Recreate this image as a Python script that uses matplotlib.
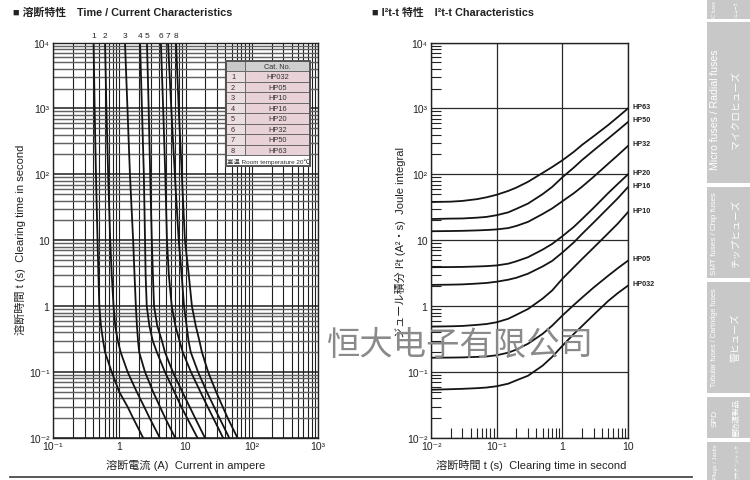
import matplotlib
matplotlib.use('Agg')
import matplotlib.pyplot as plt
from matplotlib import font_manager
from matplotlib.transforms import Affine2D, blended_transform_factory
from matplotlib.patches import Rectangle
from matplotlib.lines import Line2D
from matplotlib.ticker import LogLocator, FixedLocator, FixedFormatter, NullFormatter

# ---------------- data ----------------
fuse_numbers = ['1', '2', '3', '4', '5', '6', '7', '8']
fuse_names = ['HP032', 'HP05', 'HP10', 'HP16', 'HP20', 'HP32', 'HP50', 'HP63']

# Time / current characteristics (clearing time in s)
tc_time = [1e4, 1e3, 1e2, 10, 3, 1, 0.5, 0.3, 0.2, 0.1, 0.05, 0.03, 0.02, 0.01]
current_hp032 = [0.41, 0.425, 0.445, 0.47, 0.485, 0.50, 0.53, 0.57, 0.61, 0.77, 1.0, 1.33, 1.62, 2.3]
current_hp05 = [0.61, 0.64, 0.68, 0.73, 0.77, 0.82, 0.87, 0.95, 1.05, 1.34, 1.84, 2.37, 2.88, 4.1]
current_hp10 = [1.22, 1.33, 1.45, 1.62, 1.70, 1.78, 1.85, 1.92, 2.0, 2.45, 3.25, 4.1, 4.95, 7.0]
current_hp16 = [2.06, 2.2, 2.35, 2.45, 2.5, 2.6, 2.85, 3.2, 3.7, 4.9, 6.8, 8.6, 10.6, 15.2]
current_hp20 = [2.62, 2.78, 2.93, 3.1, 3.22, 3.35, 3.75, 4.4, 4.9, 6.45, 8.95, 11.5, 14.0, 19.7]
current_hp32 = [4.25, 4.6, 4.95, 5.25, 5.6, 6.2, 7.05, 8.1, 9.1, 12.1, 16.8, 21.5, 26.3, 37.0]
current_hp50 = [5.45, 6.1, 6.9, 7.9, 8.75, 9.5, 10.4, 11.1, 12.0, 15.5, 21.0, 26.8, 32.6, 45.8]
current_hp63 = [7.2, 7.9, 8.8, 9.8, 11.2, 12.5, 14.3, 16.2, 17.7, 22.0, 29.0, 36.3, 43.5, 61.0]
tc_currents = [current_hp032, current_hp05, current_hp10, current_hp16,
               current_hp20, current_hp32, current_hp50, current_hp63]

# I2t - t characteristics (A^2 s)
i2t_time = [0.01, 0.02, 0.03, 0.05, 0.07, 0.1, 0.15, 0.2, 0.3, 0.5, 0.7, 1, 1.5, 2, 3, 5, 7, 10]
i2t_hp032 = [0.054, 0.055, 0.0557, 0.057, 0.0583, 0.061, 0.0667, 0.075, 0.088, 0.125, 0.17, 0.25,
             0.38, 0.5, 0.74, 1.2, 1.58, 2.05]
i2t_hp05 = [0.165, 0.166, 0.167, 0.17, 0.1726, 0.18, 0.197, 0.22, 0.269, 0.38, 0.506, 0.72,
            1.045, 1.35, 1.92, 2.9, 3.77, 4.9]
i2t_hp10 = [0.49, 0.495, 0.501, 0.52, 0.536, 0.57, 0.644, 0.74, 0.906, 1.3, 1.73, 2.6,
            3.9, 5.2, 7.73, 12.8, 17.9, 26.7]
i2t_hp16 = [2.1, 2.12, 2.14, 2.2, 2.25, 2.35, 2.52, 2.7, 3.11, 4.0, 4.86, 6.5,
            9.3, 12.5, 18.6, 31.0, 43.4, 64.0]
i2t_hp20 = [3.9, 3.92, 3.94, 4.0, 4.05, 4.15, 4.41, 4.8, 5.53, 7.2, 8.8, 11.5,
            16.0, 21.0, 31.1, 52.0, 71.6, 100.0]
i2t_hp32 = [13.7, 13.8, 13.9, 14.1, 14.3, 14.6, 15.3, 16.5, 19.0, 25.0, 30.4, 39.0,
            51.8, 65.0, 91.8, 145.0, 195.0, 270.0]
i2t_hp50 = [21.0, 21.3, 21.4, 22.0, 22.6, 24.0, 26.5, 30.0, 36.0, 50.0, 64.4, 90.0,
            127.0, 165.0, 231.0, 350.0, 462.0, 623.0]
i2t_hp63 = [38.0, 38.5, 39.5, 42.0, 44.8, 49.0, 56.0, 63.0, 77.0, 105.0, 129.0, 163.0,
            220.0, 280.0, 379.0, 560.0, 740.0, 1000.0]
i2t_values = [i2t_hp032, i2t_hp05, i2t_hp10, i2t_hp16,
              i2t_hp20, i2t_hp32, i2t_hp50, i2t_hp63]

# tick labels
cur_ticks = [0.1, 1, 10, 100, 1000]
cur_labels = ['10⁻¹', '1', '10', '10²', '10³']
time_ticks = [0.01, 0.1, 1, 10, 100, 1000, 10000]
time_labels = ['10⁻²', '10⁻¹', '1', '10', '10²', '10³', '10⁴']
t2_ticks = [0.01, 0.1, 1, 10]
t2_labels = ['10⁻²', '10⁻¹', '1', '10']
j_ticks = [0.01, 0.1, 1, 10, 100, 1000, 10000]
j_labels = ['10⁻²', '10⁻¹', '1', '10', '10²', '10³', '10⁴']

# side navigation tabs
tab_english = ['IC fuses', 'Micro fuses / Radial fuses', 'SMT fuses / Chip fuses',
               'Tubular fuses / Cartridge fuses', 'SPD', 'Plugs / Jacks']
tab_japanese = ['ICヒューズ', 'マイクロヒューズ', 'チップヒューズ', '管ヒューズ',
                '雷防護製品', 'プラグ・ジャック']


# ---------------- fonts ----------------
def has_font(name):
    try:
        font_manager.findfont(font_manager.FontProperties(family=name),
                              fallback_to_default=False)
        return True
    except Exception:
        return False


NARROW = 'Liberation Sans Narrow' if has_font('Liberation Sans Narrow') else 'Liberation Sans'
LAT = ['Liberation Sans', 'Noto Sans CJK JP', 'DejaVu Sans']
NAR = [NARROW, 'Noto Sans CJK JP', 'DejaVu Sans']
plt.rcParams['font.family'] = LAT

W, H = 750, 481
fig = plt.figure(figsize=(W / 100, H / 100), dpi=100)
fig.patch.set_facecolor('white')
px = Affine2D().scale(1.0 / W, -1.0 / H).translate(0, 1) + fig.transFigure


def fbox(x0, y0, x1, y1):
    return [x0 / W, 1 - y1 / H, (x1 - x0) / W, (y1 - y0) / H]


AX_TOP, AX_BOT = 43.5, 439
ax1 = fig.add_axes(fbox(53, AX_TOP, 318, AX_BOT))
ax2 = fig.add_axes(fbox(431, AX_TOP, 628, AX_BOT))

# ---------------- left chart ----------------
ax1.set_xscale('log')
ax1.set_yscale('log')
ax1.set_xlim(0.1, 1000)
ax1.set_ylim(0.01, 1e4)
ax1.xaxis.set_major_locator(FixedLocator(cur_ticks))
ax1.xaxis.set_major_formatter(FixedFormatter(cur_labels))
ax1.yaxis.set_major_locator(FixedLocator(time_ticks))
ax1.yaxis.set_major_formatter(FixedFormatter(time_labels))
for axis in (ax1.xaxis, ax1.yaxis):
    axis.set_minor_locator(LogLocator(base=10, subs=range(2, 10), numticks=30))
    axis.set_minor_formatter(NullFormatter())
ax1.tick_params(which='both', length=0, labelsize=7.5, pad=2.5, colors='#222')
ax1.xaxis.grid(True, which='both', color='#1e1e1e', lw=0.8)
ax1.yaxis.grid(True, which='major', color='#1e1e1e', lw=1.1)
ax1.yaxis.grid(True, which='minor', color='#636363', lw=1.05)
ax1.set_axisbelow(True)
for sp in ax1.spines.values():
    sp.set_color('#222')
    sp.set_linewidth(1.0)
for cur in tc_currents:
    ax1.plot(cur, tc_time, color='#141414', lw=1.3, solid_joinstyle='round')
lab_tr = blended_transform_factory(ax1.transData, ax1.transAxes)
for num, cur in zip(fuse_numbers, tc_currents):
    ax1.text(cur[0], 1.017, num, transform=lab_tr, ha='center', va='center',
             fontsize=6, color='#222')

# ---------------- right chart ----------------
ax2.set_xscale('log')
ax2.set_yscale('log')
ax2.set_xlim(0.01, 10)
ax2.set_ylim(0.01, 1e4)
ax2.xaxis.set_major_locator(FixedLocator(t2_ticks))
ax2.xaxis.set_major_formatter(FixedFormatter(t2_labels))
ax2.yaxis.set_major_locator(FixedLocator(j_ticks))
ax2.yaxis.set_major_formatter(FixedFormatter(j_labels))
for axis in (ax2.xaxis, ax2.yaxis):
    axis.set_minor_locator(LogLocator(base=10, subs=range(2, 10), numticks=30))
    axis.set_minor_formatter(NullFormatter())
ax2.tick_params(which='major', length=0, labelsize=7.5, pad=2.5, colors='#222')
ax2.tick_params(which='minor', direction='in', length=7, width=0.8, color='#222')
ax2.grid(True, which='major', color='#2a2a2a', lw=0.9)
ax2.set_axisbelow(True)
for sp in ax2.spines.values():
    sp.set_color('#222')
    sp.set_linewidth(1.0)
for name, vals in zip(fuse_names, i2t_values):
    ax2.plot(i2t_time, vals, color='#141414', lw=1.3, solid_joinstyle='round')
    ax2.annotate(name, xy=(i2t_time[-1], vals[-1]), xytext=(5, 2),
                 textcoords='offset pixels', ha='left', va='center',
                 fontsize=5.2, fontweight='bold', color='#222',
                 annotation_clip=False)

# ---------------- titles and axis labels ----------------
fig.text(13, 13, '■ 溶断特性　Time / Current Characteristics', transform=px,
         ha='left', va='center', fontsize=7.8, fontweight='bold', color='#222',
         family=NAR)
fig.text(372, 13, '■ I²t-t 特性　I²t-t Characteristics', transform=px,
         ha='left', va='center', fontsize=7.8, fontweight='bold', color='#222',
         family=NAR)
fig.text(185.5, 465, '溶断電流 (A)  Current in ampere', transform=px,
         ha='center', va='center', fontsize=8, color='#222')
fig.text(20, 240, '溶断時間 t (s)  Clearing time in second', transform=px,
         ha='center', va='center', rotation=90, fontsize=8, color='#222')
fig.text(531, 465, '溶断時間 t (s)  Clearing time in second', transform=px,
         ha='center', va='center', fontsize=8, color='#222')
fig.text(400, 243, 'ジュール積分 I²t (A²・s)  Joule integral', transform=px,
         ha='center', va='center', rotation=90, fontsize=8, color='#222')

# ---------------- catalogue table ----------------
TX0, TXC, TX1 = 226, 245, 310
TY0, HDR, ROW, FOOT = 62, 10.2, 10.5, 10.5
pink = '#e8d2d7'
pink2 = '#ecdde0'
edge = '#6a6a6a'


def rect(x0, y0, x1, y1, fc, ec=edge, lw=0.7, z=5):
    fig.add_artist(Rectangle((x0, y0), x1 - x0, y1 - y0, transform=px,
                             facecolor=fc, edgecolor=ec, lw=lw, zorder=z))


rect(TX0, TY0, TXC, TY0 + HDR, '#c9c9c9')
rect(TXC, TY0, TX1, TY0 + HDR, '#cfcfcf')
fig.text((TXC + TX1) / 2, TY0 + HDR / 2 + 0.5, 'Cat. No.', transform=px, ha='center',
         va='center', fontsize=5.3, color='#333', zorder=6)
for i, (num, name) in enumerate(zip(fuse_numbers, fuse_names)):
    y0 = TY0 + HDR + i * ROW
    rect(TX0, y0, TXC, y0 + ROW, pink2)
    rect(TXC, y0, TX1, y0 + ROW, pink)
    fig.text(TX0 + 5, y0 + ROW / 2 + 0.5, num, transform=px, ha='left', va='center',
             fontsize=5.3, color='#333', zorder=6)
    fig.text((TXC + TX1) / 2, y0 + ROW / 2 + 0.5, name, transform=px, ha='center',
             va='center', fontsize=5.3, color='#333', zorder=6)
yF = TY0 + HDR + 8 * ROW
rect(TX0, yF, TX1, yF + FOOT, 'white')
fig.text((TX0 + TX1) / 2, yF + FOOT / 2 + 0.5, '室温 Room temperature 20℃', transform=px,
         ha='center', va='center', fontsize=4.6, color='#333', zorder=6)
rect(TX0, TY0, TX1, yF + FOOT, 'none', ec='#555', lw=1.4, z=6)

# ---------------- side navigation strip ----------------
tab_boxes = [(-5, 20), (23, 184), (188, 279), (283, 394), (398, 439), (443, 486)]
tab_centers = [10, 110, 234, 338, 418, 462]
tab_en_size = [3.3, 7.6, 5.8, 5.2, 6.0, 4.2]
tab_ja_size = [2.6, 7.0, 7.0, 7.0, 5.5, 3.2]
for (y0, y1), yc, en, ja, s_en, s_ja in zip(tab_boxes, tab_centers, tab_english,
                                             tab_japanese, tab_en_size, tab_ja_size):
    rect(707, y0, 752, y1, '#c8c8c8', ec='none', lw=0, z=2)
    fig.text(715, yc, en, transform=px, ha='center', va='center', rotation=90,
             fontsize=s_en, color='white', family=NAR, zorder=3)
    fig.text(736, yc, ja, transform=px, ha='center', va='center', rotation=90,
             fontsize=s_ja, color='white', family=['Noto Sans CJK JP'], zorder=3)

# bottom rule
fig.add_artist(Line2D([10, 692], [477.5, 477.5], transform=px, color='#4a4a4a', lw=1.3))

# watermark
fig.text(460, 345, '恒大电子有限公司', transform=px, ha='center', va='center',
         fontsize=24, color='#8a8a8a', family=['Noto Sans CJK SC'], zorder=20)

fig.savefig('out.png', dpi=100, facecolor='white')
